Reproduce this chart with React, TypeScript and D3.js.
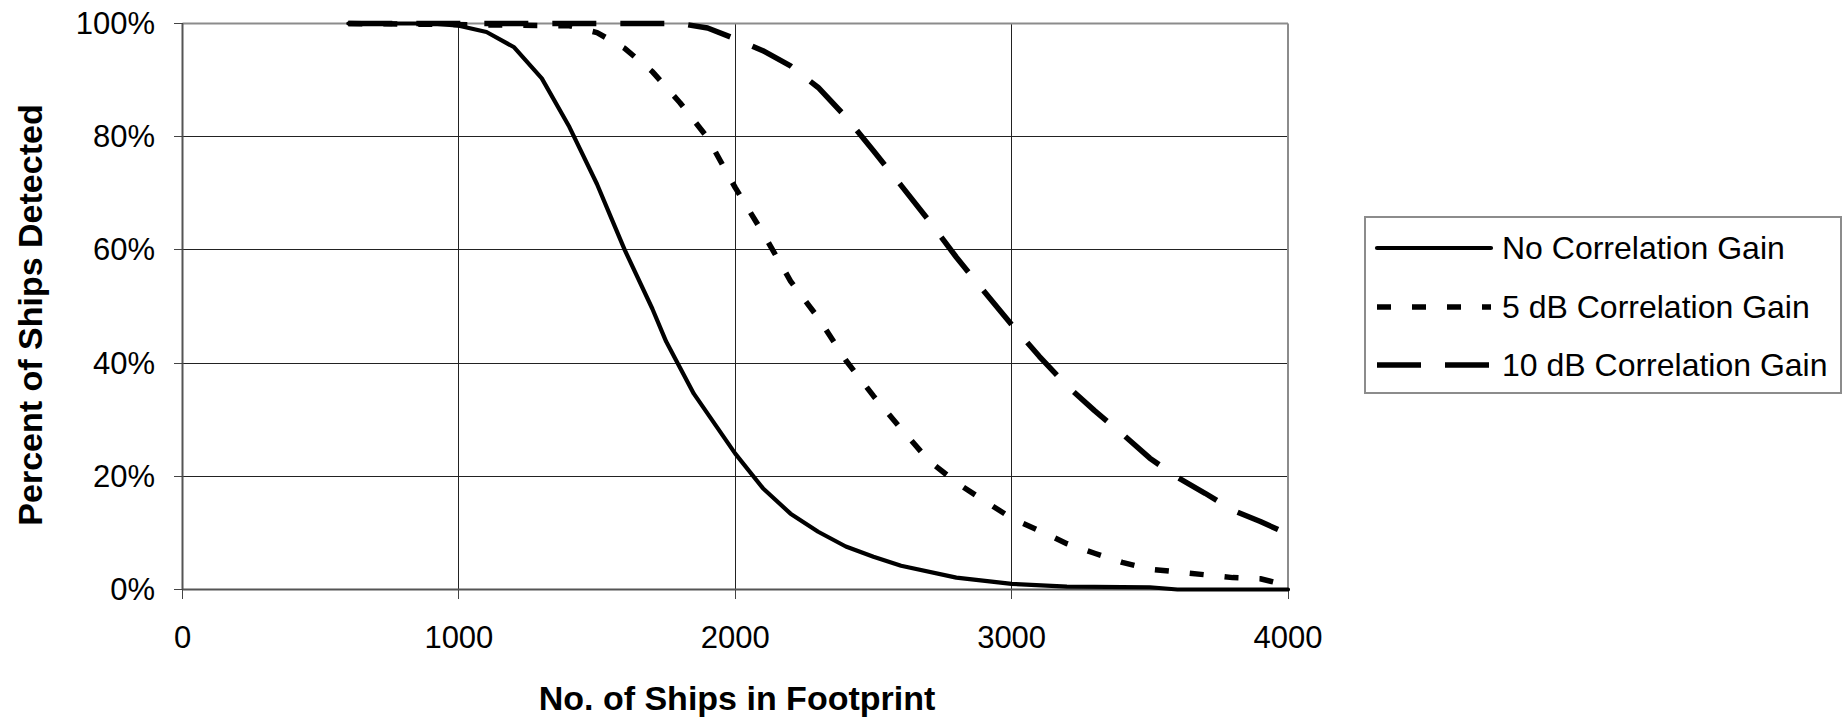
import React from 'react';
import * as d3 from 'd3';

const VW = 1846, VH = 722;
const PL = 182.5, PR = 1288, PT = 23.5, PB = 589.5;

const X_TICKS = [0, 1000, 2000, 3000, 4000];
const Y_TICKS = [0, 20, 40, 60, 80, 100];
const LEGEND = ['No Correlation Gain', '5 dB Correlation Gain', '10 dB Correlation Gain'];

// no correlation gain (solid)
const X_NONE = [600, 900, 1000, 1100, 1200, 1300, 1400, 1500, 1550, 1600, 1700, 1750, 1850, 2000, 2100, 2200, 2300, 2400, 2500, 2600, 2800, 3000, 3200, 3500, 3600, 4000];
const Y_NONE = [100, 100, 99.6, 98.5, 95.8, 90.3, 81.7, 71.6, 65.8, 60, 49.6, 43.8, 34.6, 24, 17.9, 13.4, 10.2, 7.6, 5.8, 4.2, 2.1, 1.0, 0.5, 0.4, 0, 0];

// 5 dB (short dashes)
const X_5DB = [600, 1400, 1500, 1600, 1700, 1800, 1900, 2000, 2100, 2200, 2300, 2400, 2500, 2600, 2700, 2800, 2900, 3000, 3100, 3200, 3300, 3400, 3500, 3600, 3700, 3800, 3900, 4000];
const Y_5DB = [100, 99.6, 98.4, 95.6, 91.5, 86, 79.8, 71, 63, 54.5, 48, 40.5, 34.2, 28.4, 22.8, 18.9, 15.7, 12.6, 10.4, 8.1, 6.4, 4.8, 3.6, 3.1, 2.6, 2.1, 1.9, 0.7];

// 10 dB (long dashes)
const X_10DB = [600, 1800, 1900, 2000, 2100, 2200, 2300, 2400, 2500, 2600, 2700, 2800, 2900, 3000, 3100, 3200, 3300, 3400, 3500, 3600, 3700, 3800, 3900, 4000];
const Y_10DB = [100, 100, 99.2, 97.3, 95.2, 92.5, 88.7, 83.5, 77.5, 71.4, 65.2, 58.7, 52.7, 46.8, 41.2, 36, 31.6, 27.5, 23.2, 19.8, 17, 14, 12, 9.8];

const FONT = '"Liberation Sans", Arial, sans-serif';

export default function App() {
  const x = d3.scaleLinear().domain([0, 4000]).range([PL, PR]);
  const y = d3.scaleLinear().domain([0, 100]).range([PB, PT]);
  const line = d3.line<[number, number]>().x(d => x(d[0])).y(d => y(d[1]));

  const series = [
    { xs: X_NONE, ys: Y_NONE, w: 4.2, dash: undefined as string | undefined, cap: 'round' },
    { xs: X_5DB, ys: Y_5DB, w: 5.5, dash: '14 21', cap: 'butt' },
    { xs: X_10DB, ys: Y_10DB, w: 5.5, dash: '44 24', cap: 'butt' },
  ];
  const legendY = [248, 307, 365];

  return (
    <svg width={VW} height={VH} viewBox={`0 0 ${VW} ${VH}`}
      style={{ position: 'absolute', left: 0, top: 0, background: '#fff' }} fontFamily={FONT}>
      <rect x={0} y={0} width={VW} height={VH} fill="#fff" />

      {/* gridlines */}
      <g stroke="#222" strokeWidth={1} shapeRendering="crispEdges">
        {Y_TICKS.filter(t => t > 0 && t < 100).map(t => (
          <line key={'gy' + t} x1={PL} x2={PR} y1={y(t)} y2={y(t)} />
        ))}
        {X_TICKS.filter(t => t > 0 && t < 4000).map(t => (
          <line key={'gx' + t} x1={x(t)} x2={x(t)} y1={PT} y2={PB} />
        ))}
      </g>

      {/* plot border */}
      <line x1={PL} x2={PR} y1={PT} y2={PT} stroke="#8c8c8c" strokeWidth={2} />
      <line x1={PR} x2={PR} y1={PT} y2={PB} stroke="#8c8c8c" strokeWidth={2} />

      {/* axes + ticks */}
      <line x1={PL} x2={PL} y1={PT} y2={PB} stroke="#555" strokeWidth={2} />
      <line x1={PL} x2={PR} y1={PB} y2={PB} stroke="#555" strokeWidth={2} />
      <g stroke="#444" strokeWidth={1} shapeRendering="crispEdges">
        {Y_TICKS.map(t => <line key={'ty' + t} x1={PL - 9} x2={PL} y1={y(t)} y2={y(t)} />)}
        {X_TICKS.map(t => <line key={'tx' + t} x1={x(t)} x2={x(t)} y1={PB} y2={PB + 9} />)}
      </g>

      {/* tick labels */}
      <g fontSize={31} fill="#000">
        {Y_TICKS.map(t => (
          <text key={'ly' + t} x={155} y={y(t) + 10.5} textAnchor="end">{t}%</text>
        ))}
        {X_TICKS.map(t => (
          <text key={'lx' + t} x={x(t)} y={648} textAnchor="middle">{t}</text>
        ))}
      </g>

      {/* series */}
      {series.map((s, i) => (
        <path key={'s' + i} d={line(s.xs.map((v, k) => [v, s.ys[k]] as [number, number])) ?? ''}
          fill="none" stroke="#000" strokeWidth={s.w} strokeDasharray={s.dash}
          strokeLinecap={s.cap as any} strokeLinejoin="round" />
      ))}

      {/* axis titles */}
      <text transform={`translate(42,315) rotate(-90)`} textAnchor="middle"
        fontSize={34} fontWeight="bold">Percent of Ships Detected</text>
      <text x={737} y={710} textAnchor="middle" fontSize={34} fontWeight="bold">No. of Ships in Footprint</text>

      {/* legend */}
      <rect x={1365} y={217} width={476} height={176} fill="#fff" stroke="#8c8c8c" strokeWidth={2} />
      {LEGEND.map((name, i) => (
        <g key={name}>
          <line x1={1377} x2={1491} y1={legendY[i]} y2={legendY[i]} stroke="#000"
            strokeWidth={series[i].w} strokeDasharray={series[i].dash} strokeLinecap={series[i].cap as any} />
          <text x={1502} y={legendY[i] + 11} fontSize={32} fill="#000">{name}</text>
        </g>
      ))}
    </svg>
  );
}
